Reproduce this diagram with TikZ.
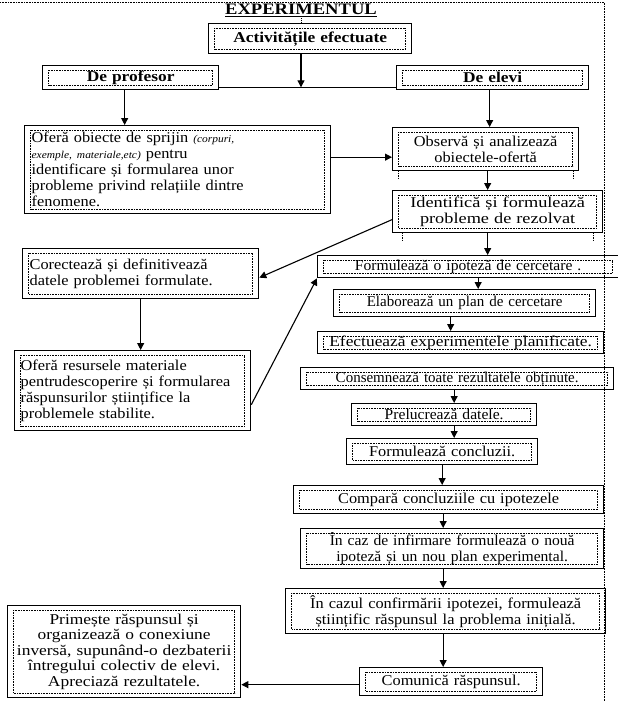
\documentclass[tikz,border=0pt]{standalone}
\usepackage{fontspec}
\setmainfont{Liberation Serif}
\newfontfamily\fsa{Liberation Serif}[FakeStretch=1.04]
\newfontfamily\fsb{Liberation Serif}[FakeStretch=1.09]
\newfontfamily\fsc{Liberation Serif}[FakeStretch=1.16]
\newfontfamily\fsd{Liberation Serif}[FakeStretch=1.22]
\usetikzlibrary{arrows.meta}
\begin{document}
\begin{tikzpicture}[x=1pt,y=-1pt,
  every node/.style={font=\fontsize{15}{16}\selectfont},
  box/.style={draw, line width=1.3pt, inner sep=0pt, anchor=north west, align=center,
    path picture={\draw[line width=0.6pt, dash pattern=on 0.7pt off 0.9pt]
      ([xshift=6pt,yshift=-4.5pt]path picture bounding box.north west) rectangle
      ([xshift=-6pt,yshift=4.5pt]path picture bounding box.south east);}},
  bfbox/.style={box, font=\fsc\bfseries\fontsize{15}{16}\selectfont},
  dots/.style={line width=0.6pt, dash pattern=on 0.7pt off 0.9pt},
  arr/.style={line width=1.1pt, -{Triangle[width=7pt,length=7pt]}},
  ln/.style={line width=1.1pt},
  frame/.style={line width=0.8pt, dash pattern=on 0.8pt off 0.8pt}]
\useasboundingbox (0,0) rectangle (618,701);
\draw[frame] (0,2) -- (604,2) -- (604,701);
% title
\node[font=\fsc\bfseries\fontsize{16}{18}\selectfont, inner sep=1pt, anchor=base] (title) at (301,15) {\underline{EXPERIMENTUL}};
% boxes
\node[bfbox, minimum width=203pt, minimum height=30pt, text width=189pt] (act) at (208,23) {Activitățile efectuate};
\node[bfbox, minimum width=176pt, minimum height=24pt, text width=164pt] (prof) at (42,65) {De profesor};
\node[bfbox, minimum width=192pt, minimum height=24pt, text width=180pt] (elevi) at (396,65) {De elevi};
\node[box, align=left, font=\fsb\fontsize{15}{16}\selectfont, minimum width=306pt, minimum height=88pt, text width=292pt] (oferaob) at (24,125)
  {Oferă obiecte de sprijin {\fontsize{10.5}{11}\selectfont\itshape (corpuri,}\\
   {\fontsize{10.5}{11}\selectfont\itshape exemple, materiale,etc)} pentru\\
   identificare și formularea unor\\
   probleme privind relațiile dintre\\
   fenomene.};
\node[box, font=\fsb\fontsize{15}{16}\selectfont, minimum width=186pt, minimum height=43pt, text width=174pt] (obs) at (392,127) {Observă și analizează\\ obiectele-ofertă};
\node[box, font=\fsd\fontsize{15}{16}\selectfont, minimum width=210pt, minimum height=42pt, text width=198pt] (ident) at (392,190) {Identifică și formulează\\ probleme de rezolvat};
\node[box, align=left, font=\fsb\fontsize{15}{16}\selectfont, minimum width=236pt, minimum height=50pt, text width=222pt] (corect) at (22,248) {Corectează și definitivează\\ datele problemei formulate.};
\node[box, align=left, font=\fsb\fontsize{15}{16}\selectfont, minimum width=236pt, minimum height=80pt, text width=224pt] (oferares) at (14,350) {Oferă resursele materiale\\ pentrudescoperire și formularea\\ răspunsurilor științifice la\\ problemele stabilite.};
\node[box, font=\fsa\fontsize{15}{16}\selectfont, minimum width=301pt, minimum height=22pt, text width=289pt] (ipot) at (317,255) {Formulează o ipoteză de cercetare .};
\node[box, minimum width=262pt, minimum height=27pt, text width=250pt] (elab) at (333,289) {Elaborează un plan de cercetare};
\node[box, font=\fsc\fontsize{15}{16}\selectfont, minimum width=286pt, minimum height=22pt, text width=274pt] (efect) at (317,331) {Efectuează experimentele planificate.};
\node[box, minimum width=313pt, minimum height=22pt, text width=301pt] (consemn) at (300,367) {Consemnează toate rezultatele obținute.};
\node[box, font=\fsa\fontsize{15}{16}\selectfont, minimum width=185pt, minimum height=22pt, text width=173pt] (prel) at (351,403) {Prelucrează datele.};
\node[box, font=\fsb\fontsize{15}{16}\selectfont, minimum width=191pt, minimum height=26pt, text width=179pt] (concl) at (346,438) {Formulează concluzii.};
\node[box, font=\fsb\fontsize{15}{16}\selectfont, minimum width=310pt, minimum height=28pt, text width=298pt] (comp) at (293,485) {Compară concluziile cu ipotezele};
\node[box, font=\fsa\fontsize{15}{16}\selectfont, minimum width=303pt, minimum height=40pt, text width=293pt] (infirm) at (300,528) {În caz de infirmare formulează o nouă\\ ipoteză și un nou plan experimental.};
\node[box, font=\fsb\fontsize{15}{16}\selectfont, minimum width=320pt, minimum height=45pt, text width=308pt] (confirm) at (285,588) {În cazul confirmării ipotezei, formulează\\ științific răspunsul la problema inițială.};
\node[box, font=\fsb\fontsize{15}{16}\selectfont, minimum width=183pt, minimum height=28pt, text width=171pt] (comunic) at (359,667) {Comunică răspunsul.};
\node[box, font=\fsc\fontsize{15}{15.5}\selectfont, minimum width=233pt, minimum height=92pt, text width=229pt] (primeste) at (7,605) {Primește răspunsul și\\ organizează o conexiune\\ inversă, supunând-o dezbaterii\\ întregului colectiv de elevi.\\ Apreciază rezultatele.};
% dotted overhangs
\draw[dots] ([xshift=6pt]obs.south west) -- ++(0,7);
\draw[dots] ([xshift=-6pt]obs.south east) -- ++(0,7);
\draw[dots] ([xshift=10pt]ident.south west) -- ++(0,7);
\draw[dots] ([xshift=-10pt]ident.south east) -- ++(0,7);
% connectors
\draw[frame] (title.south) -- (act.north -| title.south);
\draw[ln] ([yshift=3pt]prof.south east) -- ([yshift=3pt]elevi.south west);
\draw[arr] (act.south -| title.south) -- ([yshift=3pt]prof.south east -| title.south);
\draw[arr] ([xshift=-6pt]prof.south) -- ([xshift=-6pt]prof.south |- oferaob.north);
\draw[arr] ([xshift=-3pt]elevi.south) -- ([xshift=-3pt]elevi.south |- obs.north);
\draw[arr] ([yshift=-8pt]oferaob.east |- obs.west) -- ([yshift=-8pt]obs.west);
\draw[arr] ([xshift=2pt]obs.south) -- ([xshift=2pt]obs.south |- ident.north);
\draw[arr] ([xshift=2pt]obs.south |- ident.south) -- ([xshift=2pt]obs.south |- ipot.north);
\draw[arr] ([yshift=-8pt]ident.west) -- ([yshift=-4pt]corect.east);
\draw[arr] (corect.south) -- (corect.south |- oferares.north);
\draw[arr] ([yshift=-14pt]oferares.east) -- (ipot.south west);
\draw[arr] ([xshift=10pt]ipot.south) -- ([xshift=10pt]ipot.south |- elab.north);
\draw[arr] ([xshift=-14pt]elab.south) -- ([xshift=-14pt]elab.south |- efect.north);
\draw[arr] ([xshift=-3pt]consemn.south) -- ([xshift=-3pt]consemn.south |- prel.north);
\draw[arr] ([xshift=-3pt]consemn.south |- prel.south) -- ([xshift=-3pt]consemn.south |- concl.north);
\draw[arr] (concl.south) -- (concl.south |- comp.north);
\draw[arr] ([xshift=1pt]concl.south |- comp.south) -- ([xshift=1pt]concl.south |- infirm.north);
\draw[arr] ([xshift=1pt]concl.south |- infirm.south) -- ([xshift=1pt]concl.south |- confirm.north);
\draw[arr] ([xshift=1pt]concl.south |- confirm.south) -- ([xshift=1pt]concl.south |- comunic.north);
\draw[arr] ([yshift=-3pt]comunic.west) -- ([yshift=-3pt]comunic.west -| primeste.east);
\end{tikzpicture}
\end{document}
